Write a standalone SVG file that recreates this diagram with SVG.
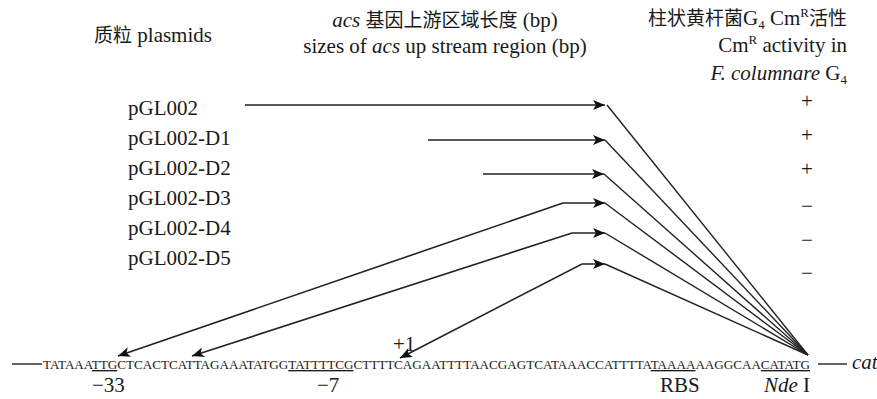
<svg xmlns="http://www.w3.org/2000/svg" width="877" height="399" viewBox="0 0 877 399">
<defs>
<style>
text{font-family:"Liberation Serif","Noto Sans CJK SC",serif;font-size:21px;fill:#1a1a1a}
.cjk{font-family:"Noto Sans CJK SC","Liberation Serif",sans-serif;font-size:19px}
.it{font-style:italic}
.seq{font-size:13.5px}
.u{text-decoration:underline}
.c{stroke:#222;stroke-width:1.6;fill:none}
.d{stroke:#222;stroke-width:1.4;fill:none}
.mk{fill:#111}
</style>
<marker id="ah" markerUnits="userSpaceOnUse" markerWidth="14" markerHeight="10" refX="12" refY="5" orient="auto-start-reverse" viewBox="0 0 14 10">
<path class="mk" d="M0,0 L12,5 L0,10 L3,5 Z"/>
</marker>
</defs>

<g id="headers">
<text x="153" y="42" text-anchor="middle"><tspan class="cjk">质粒</tspan> plasmids</text>
<text x="445" y="27" text-anchor="middle"><tspan class="it">acs</tspan> <tspan class="cjk">基因上游区域长度</tspan> (bp)</text>
<text x="445" y="53" text-anchor="middle">sizes of <tspan class="it">acs</tspan> up stream region (bp)</text>
<text x="847" y="25" text-anchor="end"><tspan class="cjk">柱状黄杆菌</tspan>G<tspan dy="4" font-size="13">4</tspan><tspan dy="-4"> Cm</tspan><tspan dy="-8" font-size="13">R</tspan><tspan dy="8" class="cjk">活性</tspan></text>
<text x="847" y="52" text-anchor="end">Cm<tspan dy="-8" font-size="13">R</tspan><tspan dy="8"> activity in</tspan></text>
<text x="847" y="80" text-anchor="end"><tspan class="it">F. columnare</tspan> G<tspan dy="4" font-size="13">4</tspan></text>
</g>

<g id="pGL002"><text x="128" y="115">pGL002</text><text x="807" y="108" text-anchor="middle">+</text></g>
<g id="pGL002-D1"><text x="128" y="145">pGL002-D1</text><text x="807" y="142" text-anchor="middle">+</text></g>
<g id="pGL002-D2"><text x="128" y="175">pGL002-D2</text><text x="807" y="176" text-anchor="middle">+</text></g>
<g id="pGL002-D3"><text x="128" y="205">pGL002-D3</text><text x="807" y="213" text-anchor="middle">−</text></g>
<g id="pGL002-D4"><text x="128" y="235">pGL002-D4</text><text x="807" y="247" text-anchor="middle">−</text></g>
<g id="pGL002-D5"><text x="128" y="265">pGL002-D5</text><text x="807" y="280" text-anchor="middle">−</text></g>

<g id="sequence">
<line class="d" x1="12" y1="364" x2="42" y2="364"/>
<text class="seq" x="43" y="369" textLength="767" lengthAdjust="spacingAndGlyphs">TATAAA<tspan class="u">TTG</tspan>CTCACTCATTAGAAATATGG<tspan class="u">TATTTTCG</tspan>CTTTTCAGAATTTTAACGAGTCATAAACCATTTTA<tspan class="u">TAAAA</tspan>AAGGCAA<tspan class="u">CATATG</tspan></text>
<line class="d" x1="818" y1="364" x2="847" y2="364"/>
<text class="it" x="852" y="369">cat</text>
<text x="92" y="392">−33</text>
<text x="317" y="392">−7</text>
<text x="393" y="351">+1</text>
<text x="660" y="392">RBS</text>
<text x="764" y="392"><tspan class="it">Nde</tspan> I</text>
</g>

<g id="connectors">
<path class="c" d="M245,105 H605" marker-end="url(#ah)"/>
<path class="c" d="M428,140 H605" marker-end="url(#ah)"/>
<path class="c" d="M483,174 H604" marker-end="url(#ah)"/>
<path class="c" d="M118,356 L563,203 H605" marker-start="url(#ah)" marker-end="url(#ah)"/>
<path class="c" d="M192,356 L572,233 H605" marker-start="url(#ah)" marker-end="url(#ah)"/>
<path class="c" d="M400,358 L582,264 H605" marker-start="url(#ah)" marker-end="url(#ah)"/>
<path class="d" d="M607,105 L808,355"/>
<path class="d" d="M605,140 L808,355"/>
<path class="d" d="M604,174 L808,355"/>
<path class="d" d="M605,203 L808,355"/>
<path class="d" d="M605,233 L808,355"/>
<path class="d" d="M605,264 L808,355"/>
</g>
</svg>
